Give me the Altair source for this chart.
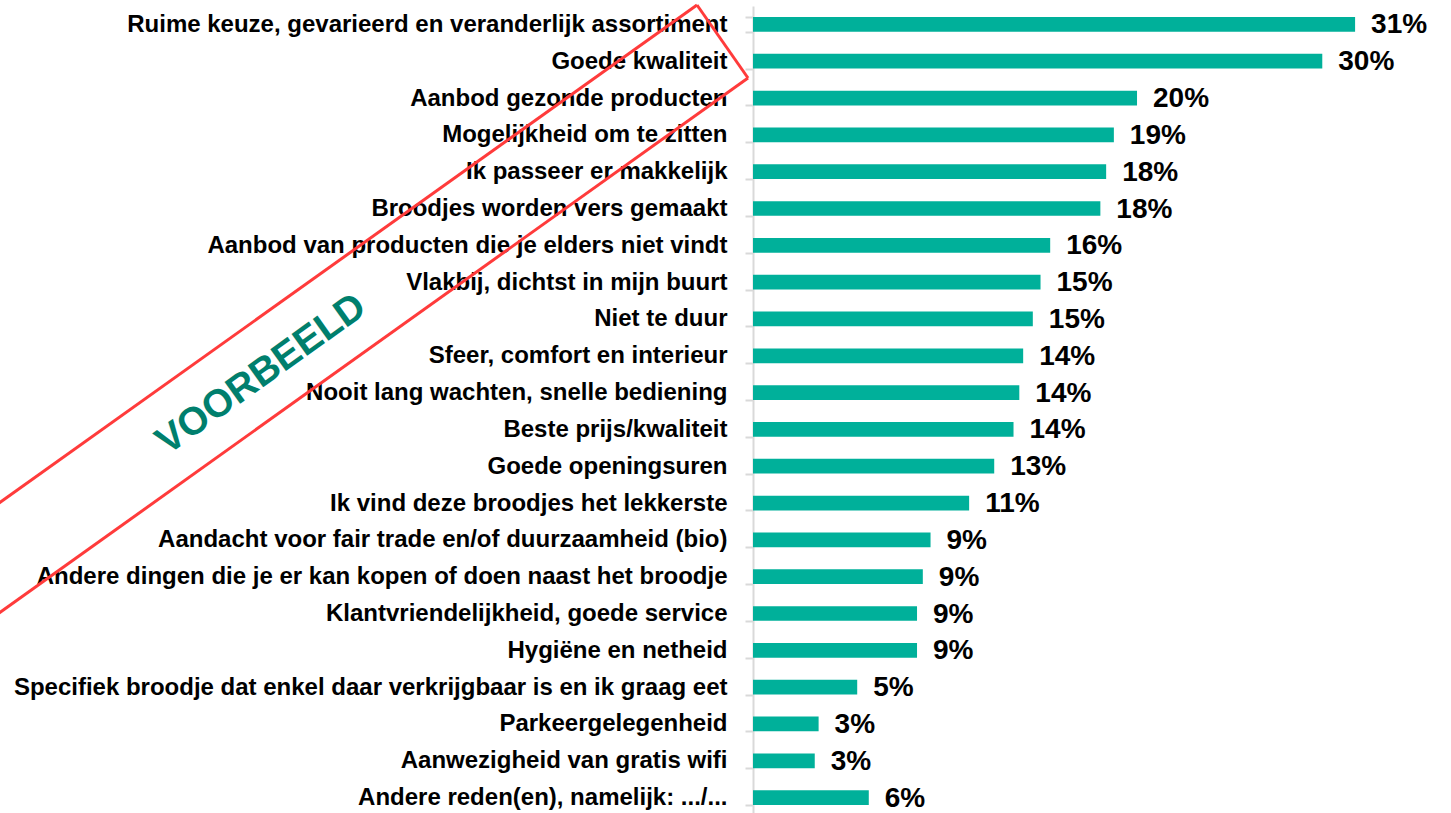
import altair as alt
import pandas as pd

categories = [
    "Ruime keuze, gevarieerd en veranderlijk assortiment",
    "Goede kwaliteit",
    "Aanbod gezonde producten",
    "Mogelijkheid om te zitten",
    "Ik passeer er makkelijk",
    "Broodjes worden vers gemaakt",
    "Aanbod van producten die je elders niet vindt",
    "Vlakbij, dichtst in mijn buurt",
    "Niet te duur",
    "Sfeer, comfort en interieur",
    "Nooit lang wachten, snelle bediening",
    "Beste prijs/kwaliteit",
    "Goede openingsuren",
    "Ik vind deze broodjes het lekkerste",
    "Aandacht voor fair trade en/of duurzaamheid (bio)",
    "Andere dingen die je er kan kopen of doen naast het broodje",
    "Klantvriendelijkheid, goede service",
    "Hygiëne en netheid",
    "Specifiek broodje dat enkel daar verkrijgbaar is en ik graag eet",
    "Parkeergelegenheid",
    "Aanwezigheid van gratis wifi",
    "Andere reden(en), namelijk: .../...",
]
values = [31.2, 29.5, 19.9, 18.7, 18.3, 18.0, 15.4, 14.9, 14.5, 14.0, 13.8,
          13.5, 12.5, 11.2, 9.2, 8.8, 8.5, 8.5, 5.4, 3.4, 3.2, 6.0]
value_labels = ["31%", "30%", "20%", "19%", "18%", "18%", "16%", "15%", "15%",
                "14%", "14%", "14%", "13%", "11%", "9%", "9%", "9%", "9%",
                "5%", "3%", "3%", "6%"]

df = pd.DataFrame({"cat": categories, "val": values, "lab": value_labels})

BAR = "#00B09A"
RED = "#FF3B3B"
LABEL_FONT = "Liberation Sans"

y_enc = alt.Y(
    "cat:N",
    sort=categories,
    scale=alt.Scale(range=[0, 810], paddingInner=0.6, paddingOuter=0.3),
    axis=alt.Axis(
        title=None,
        domainColor="#D9D9D9",
        domainWidth=2,
        tickColor="#D9D9D9",
        tickWidth=2,
        tickSize=8,
        tickBand="extent",
        labelFont=LABEL_FONT,
        labelFontSize=24,
        labelFontWeight="bold",
        labelColor="#000000",
        labelPadding=18,
        labelLimit=800,
        grid=False,
    ),
)
x_enc = alt.X("val:Q", scale=alt.Scale(domain=[0, 36.17], nice=False), axis=None)

base = alt.Chart(df).encode(y=y_enc, x=x_enc)
bars = base.mark_bar(color=BAR)
texts = base.mark_text(align="left", baseline="middle", dx=16, dy=1,
                       fontSize=28, fontWeight="bold", font=LABEL_FONT,
                       color="#000000").encode(text="lab:N")

one = pd.DataFrame({"d": [0]})


def edge(x1, y1, x2, y2):
    return alt.Chart(one).mark_rule(color=RED, strokeWidth=3).encode(
        x=alt.value(x1), y=alt.value(y1), x2=alt.value(x2), y2=alt.value(y2)
    )


wm_edges = [
    edge(-56, -1, -5, 72),
    edge(-56, -1, -800, 530),
    edge(-5, 72, -800, 640),
]
wm_text = alt.Chart(one).mark_text(
    angle=324.5, fontSize=39, fontWeight="bold", color="#007F6D", font=LABEL_FONT,
    align="center", baseline="middle"
).encode(x=alt.value(-492), y=alt.value(368), text=alt.value("VOORBEELD"))

chart = alt.layer(bars, texts, *wm_edges, wm_text).properties(
    width=698,
    height=807,
    autosize=alt.AutoSizeParams(type="none"),
    padding={"left": 753, "top": 6, "right": 0, "bottom": 0},
).configure_view(stroke=None)

chart.save("out.html", embed_options={"renderer": "svg", "actions": False})
